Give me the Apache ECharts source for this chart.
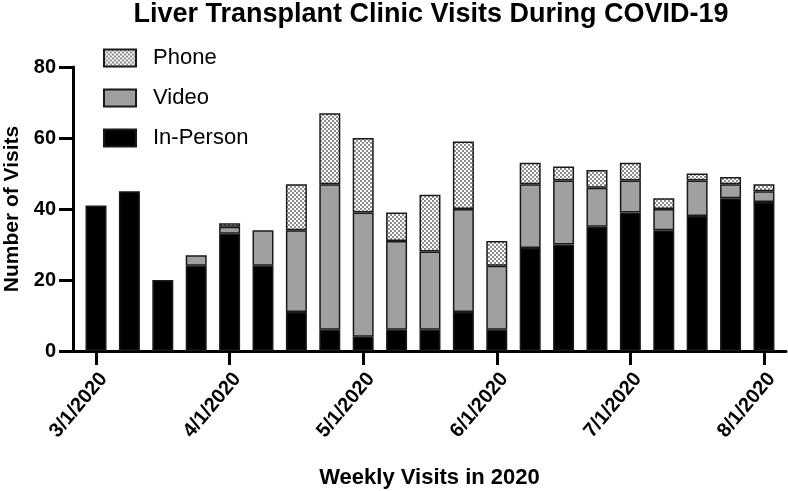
<!DOCTYPE html>
<html>
<head>
<meta charset="utf-8">
<script src="https://cdn.jsdelivr.net/npm/echarts@6/dist/echarts.min.js"></script>
<style>html,body{margin:0;padding:0;background:#fff}#c{width:788px;height:491px}</style>
</head>
<body>
<div id="c"></div>
<script>
// Week index (0 = week of 3/1/2020), 21 weekly bars
const weeks = [0,1,2,3,4,5,6,7,8,9,10,11,12,13,14,15,16,17,18,19,20];
const inPerson = [41,45,20,24,33,24,11,6,4,6,6,11,6,29,30,35,39,34,38,43,42];
const video    = [0,0,0,3,2,10,23,41,35,25,22,29,18,18,18,11,9,6,10,4,3];
const phone    = [0,0,0,0,1,0,13,20,21,8,16,19,7,6,4,5,5,3,2,2,2];
const tickWeeks = [0,4,8,12,16,20];
const tickLabels = ['3/1/2020','4/1/2020','5/1/2020','6/1/2020','7/1/2020','8/1/2020'];

const FONT = 'Liberation Sans, Arial, sans-serif';

function checker(){
  const c = document.createElement('canvas');
  c.width = 4; c.height = 4;
  const g = c.getContext('2d');
  g.fillStyle = '#ffffff'; g.fillRect(0,0,4,4);
  g.fillStyle = '#8c8c8c'; g.fillRect(0,0,2,2); g.fillRect(2,2,2,2);
  return c;
}

// value dimension first so that the stack is computed on the value (y) dimension
function build(vals){
  return weeks.map((w,i)=>{
    const v = vals[i];
    const item = {value:[v, w]};
    if (v === 0) item.itemStyle = {borderWidth:0};
    return item;
  });
}

const chart = echarts.init(document.getElementById('c'), null, {renderer:'canvas'});
const border = {borderColor:'#1a1a1a', borderWidth:1.5};
const enc = {x:1, y:0};
chart.setOption({
  animation:false,
  textStyle:{fontFamily:FONT},
  title:{
    text:'Liver Transplant Clinic Visits During COVID-19',
    left:426, textAlign:'center', top:-4,
    textStyle:{fontFamily:FONT, fontSize:27, fontWeight:'bold', color:'#000'}
  },
  legend:{
    orient:'vertical', left:98, top:42,
    itemWidth:32, itemHeight:17, itemGap:18,
    icon:'rect',
    data:['Phone','Video','In-Person'],
    textStyle:{fontFamily:FONT, fontSize:22, color:'#000', padding:[0,0,0,12]}
  },
  grid:{left:73, right:2, top:67, bottom:140, outerBoundsMode:'none', containLabel:false},
  xAxis:{
    type:'value', min:-0.689, max:20.66,
    splitLine:{show:false},
    axisLine:{show:true, onZero:false, lineStyle:{color:'#000', width:3}},
    axisTick:{show:true, customValues:tickWeeks, length:14, lineStyle:{color:'#000', width:3}},
    axisLabel:{customValues:tickWeeks, rotate:50, margin:18, verticalAlign:'top', fontSize:20, fontWeight:'bold', color:'#000', fontFamily:FONT,
      formatter:(v)=>tickLabels[tickWeeks.indexOf(Math.round(v))] || ''},
    name:'Weekly Visits in 2020', nameLocation:'middle', nameGap:116,
    nameTextStyle:{fontSize:22, fontWeight:'bold', color:'#000', fontFamily:FONT}
  },
  yAxis:{
    type:'value', min:0, max:80, interval:20,
    splitLine:{show:false},
    axisLine:{show:true, onZero:false, lineStyle:{color:'#000', width:3}},
    axisTick:{show:true, length:14, lineStyle:{color:'#000', width:3}},
    axisLabel:{margin:17, fontSize:20, fontWeight:'bold', color:'#000', fontFamily:FONT},
    name:'Number of Visits', nameLocation:'middle', nameGap:50,
    nameTextStyle:{fontSize:21, fontWeight:'bold', color:'#000', fontFamily:FONT}
  },
  series:[
    {name:'In-Person', type:'bar', stack:'v', barWidth:21, encode:enc, data:build(inPerson),
      itemStyle:Object.assign({color:'#000'}, border)},
    {name:'Video', type:'bar', stack:'v', barWidth:21, encode:enc, data:build(video),
      itemStyle:Object.assign({color:'#a0a0a0'}, border)},
    {name:'Phone', type:'bar', stack:'v', barWidth:21, encode:enc, data:build(phone),
      itemStyle:Object.assign({color:{image:checker(), repeat:'repeat'}}, border)}
  ]
});
</script>
</body>
</html>
